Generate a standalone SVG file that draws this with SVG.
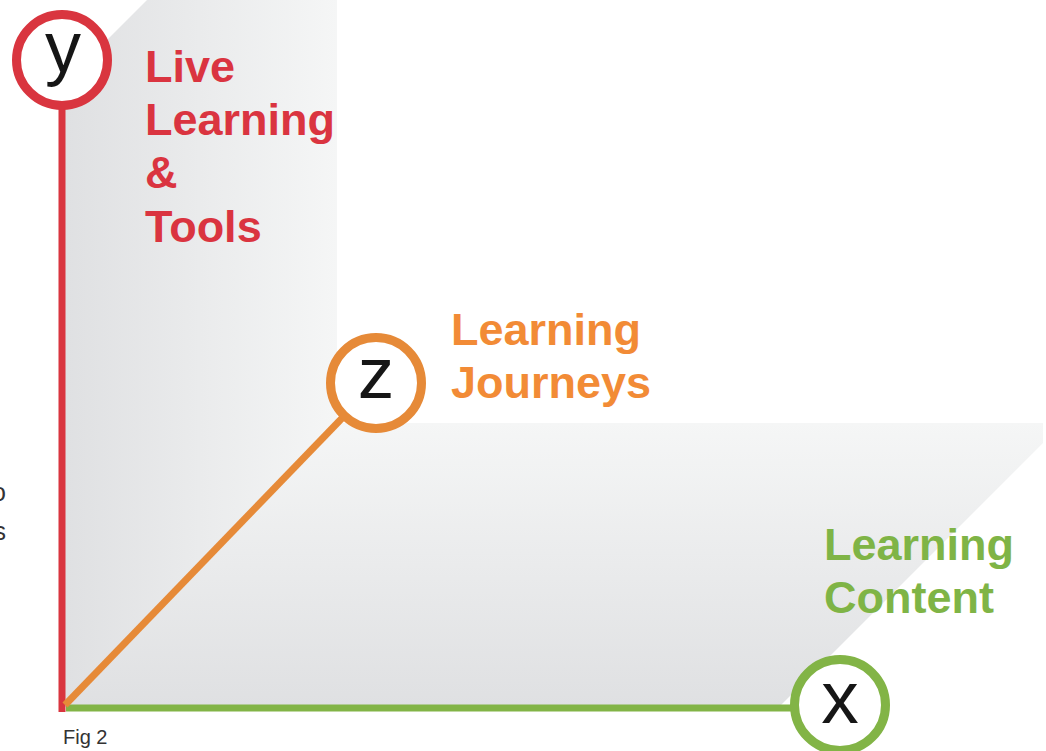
<svg xmlns="http://www.w3.org/2000/svg" width="1046" height="751" viewBox="0 0 1046 751">
  <defs>
    <!-- back wall darkens toward the y axis, floor darkens toward the x axis -->
    <linearGradient id="wallGrad" gradientUnits="userSpaceOnUse" x1="62" y1="0" x2="337" y2="0">
      <stop offset="0" stop-color="#dfe0e2"/>
      <stop offset="1" stop-color="#f5f6f6"/>
    </linearGradient>
    <linearGradient id="floorGrad" gradientUnits="userSpaceOnUse" x1="0" y1="423" x2="0" y2="707">
      <stop offset="0" stop-color="#f5f6f6"/>
      <stop offset="1" stop-color="#dfe0e2"/>
    </linearGradient>
    <style>
      .axis { fill: none; stroke-width: 7; stroke-linecap: butt; }
      .ring { fill: #ffffff; stroke-width: 9; }
      .letter { font-family: "Liberation Sans", Arial, sans-serif; font-weight: normal; fill: #161616; text-anchor: middle; }
      .label { font-family: "Liberation Sans", Arial, sans-serif; font-weight: bold; font-size: 45px; }
      .note { font-family: "Liberation Sans", Arial, sans-serif; fill: #333333; }
    </style>
  </defs>

  <rect width="1046" height="751" fill="#ffffff"/>

  <!-- planes -->
  <g id="planes">
    <polygon id="wall" points="62,707 62,85 147,0 337,0 337,423" fill="url(#wallGrad)"/>
    <polygon id="floor" points="62,707 337,423 1043,423 1043,443 779,707" fill="url(#floorGrad)"/>
  </g>

  <!-- clipped text fragments at the left edge -->
  <g id="edge-text" class="note" font-size="25">
    <text x="6" y="501" text-anchor="end">o</text>
    <text x="6" y="540" text-anchor="end">s</text>
  </g>

  <!-- axes -->
  <g id="connectors">
    <line class="axis" x1="62" y1="105" x2="62" y2="712" stroke="#d9353f"/>
    <line class="axis" x1="66" y1="708" x2="800" y2="708" stroke="#82b446"/>
    <line class="axis" x1="65" y1="705" x2="376" y2="383" stroke="#e68a38" stroke-width="6"/>
  </g>

  <!-- y axis node -->
  <g id="node-y">
    <circle class="ring" cx="62" cy="60" r="45.5" stroke="#d9353f"/>
    <text class="letter" x="63" y="72" font-size="72">y</text>
    <text class="label" fill="#da3440">
      <tspan x="145" y="82">Live</tspan>
      <tspan x="145" y="135">Learning</tspan>
      <tspan x="145" y="188">&amp;</tspan>
      <tspan x="145" y="242">Tools</tspan>
    </text>
  </g>

  <!-- z axis node -->
  <g id="node-z">
    <circle class="ring" cx="376" cy="383" r="45.5" stroke="#e68a38"/>
    <text class="letter" x="376" y="398" font-size="73">z</text>
    <text class="label" fill="#f28b36">
      <tspan x="451" y="345">Learning</tspan>
      <tspan x="451" y="398">Journeys</tspan>
    </text>
  </g>

  <!-- x axis node -->
  <g id="node-x">
    <circle class="ring" cx="840" cy="705" r="45.5" stroke="#82b446"/>
    <text class="letter" x="840" y="723" font-size="75">x</text>
    <text class="label" fill="#7fb446">
      <tspan x="824" y="560">Learning</tspan>
      <tspan x="824" y="613">Content</tspan>
    </text>
  </g>

  <!-- caption -->
  <text id="caption" class="note" x="63" y="744" font-size="20">Fig 2</text>
</svg>
